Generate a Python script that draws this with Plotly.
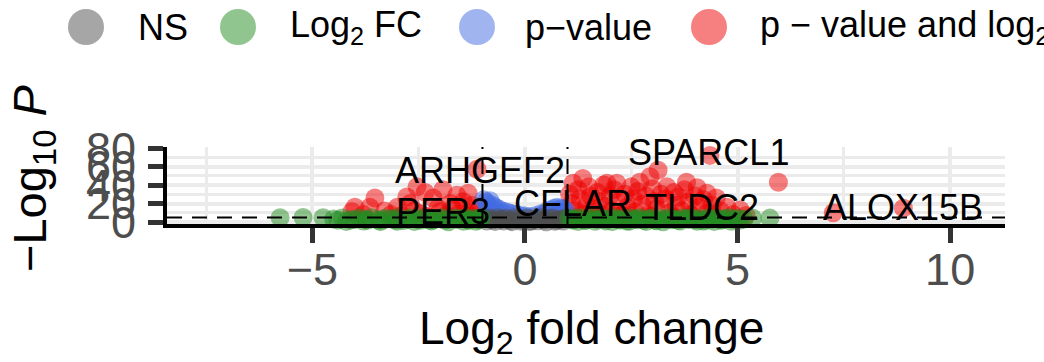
import plotly.graph_objects as go

# ---- data: log2 fold change and -log10 p for each significance class ----
ns_fc = [-0.95, -0.85, -0.75, -0.65, -0.55, -0.45, -0.35, -0.25, -0.15, -0.05,
         0.05, 0.15, 0.25, 0.35, 0.45, 0.55, 0.65, 0.75, 0.85, 0.95,
         -0.9, -0.7, -0.5, -0.3, -0.1, 0.1, 0.3, 0.5, 0.7, 0.9]
ns_p = [3.8, 4.2, 2.5, 4.5, 3.0, 4.0, 1.5, 4.4, 3.2, 2.0,
        4.3, 1.0, 3.6, 4.6, 2.2, 3.9, 4.4, 1.8, 3.3, 4.1,
        1.0, 0.5, 1.2, 0.4, 0.8, 0.6, 1.4, 0.3, 0.9, 1.1]

fc_fc = [-5.76, -5.22, -4.75, -4.5, -4.3, -4.1, -3.9, -3.75, -3.6, -3.45,
         -3.3, -3.15, -3.0, -2.85, -2.7, -2.55, -2.4, -2.25, -2.1, -1.95,
         -1.8, -1.65, -1.5, -1.4, -1.3, -1.2, -1.1, -1.03,
         -4.2, -3.8, -3.4, -3.0, -2.6, -2.2, -1.8, -1.45, -1.15,
         -4.4, -4.0, -3.7, -3.35, -3.05, -2.75, -2.45, -2.15, -1.9, -1.6, -1.35, -1.08,
         1.03, 1.1, 1.2, 1.3, 1.4, 1.5, 1.6, 1.7, 1.8, 1.9,
         2.0, 2.1, 2.2, 2.3, 2.4, 2.5, 2.6, 2.7, 2.8, 2.9,
         3.0, 3.1, 3.2, 3.3, 3.4, 3.5, 3.6, 3.7, 3.8, 3.9,
         4.0, 4.1, 4.2, 4.3, 4.4, 4.5, 4.6, 4.7, 4.8, 4.9,
         5.0, 5.15, 5.35, 5.76,
         1.25, 1.65, 2.05, 2.45, 2.85, 3.25, 3.65, 4.05, 4.45, 4.85,
         1.15, 1.45, 1.85, 2.25, 2.65, 3.05, 3.45, 3.85, 4.25, 4.65, 5.05]
fc_p = [4.5, 4.8, 4.6, 3.2, 4.4, 2.5, 4.2, 3.0, 4.6, 2.0,
        4.0, 3.5, 4.7, 1.5, 4.2, 3.0, 4.5, 2.2, 3.8, 4.6,
        2.8, 4.3, 3.6, 4.7, 1.8, 4.1, 3.2, 4.4,
        0.6, 1.0, 0.4, 0.8, 0.5, 1.2, 0.3, 0.7, 0.9,
        2.0, 2.6, 1.8, 2.4, 2.1, 2.7, 1.9, 2.5, 2.2, 2.8, 2.0, 2.4,
        4.4, 2.2, 3.8, 4.6, 1.5, 3.4, 4.5, 2.6, 4.1, 1.2,
        3.7, 4.6, 2.4, 3.9, 1.0, 4.3, 3.0, 4.7, 2.0, 3.6,
        4.4, 1.4, 4.0, 2.8, 4.6, 3.3, 1.8, 4.2, 3.5, 4.7,
        2.5, 3.9, 1.1, 4.5, 3.1, 4.2, 2.0, 3.7, 4.6, 2.8,
        4.0, 3.2, 4.3, 4.2,
        0.5, 0.8, 0.4, 0.9, 0.6, 0.3, 1.0, 0.7, 0.5, 0.8,
        2.4, 2.0, 2.6, 2.2, 2.5, 1.9, 2.3, 2.7, 2.1, 2.4, 1.8]

pv_fc = [-0.97, -0.92, -0.88, -0.82, -0.76, -0.7, -0.62, -0.55, -0.46, -0.38,
         -0.3, -0.2, -0.1, 0.0, 0.12, 0.25, 0.38, 0.5, 0.6, 0.68,
         0.76, 0.84, 0.9, 0.96, -0.9, -0.65, 0.45, 0.8]
pv_p = [24, 22, 20, 23, 18, 16, 14, 12, 11, 10,
        9, 8, 7, 6.5, 6, 7, 9, 11, 13, 15,
        16, 15, 14, 12, 12, 9, 8, 10]

sig_fc = [-4.07, -4.0, -3.65, -3.53, -3.3, -3.0, -3.15, -2.78, -2.7, -2.54,
          -2.6, -2.45, -2.35, -2.3, -2.16, -2.05, -2.0, -1.93, -1.85, -1.75,
          -1.7, -1.6, -1.55, -1.45, -1.4, -1.34, -1.25, -1.2, -1.13, -1.08,
          -3.8, -2.9, -1.3,
          1.13, 1.36, 1.93, 2.16, 2.7, 2.94, 3.13, 3.34, 3.8, 4.05,
          4.28, 4.5, 4.75, 5.06, 5.96, 4.35, 7.25, 8.9,
          1.05, 1.1, 1.2, 1.25, 1.3, 1.4, 1.45, 1.5, 1.55, 1.6,
          1.7, 1.75, 1.8, 1.85, 1.9, 2.0, 2.05, 2.1, 2.2, 2.3,
          2.35, 2.4, 2.5, 2.55, 2.6, 2.65, 2.75, 2.85, 2.9, 3.0,
          3.05, 3.1, 3.2, 3.3, 3.4, 3.5, 3.55, 3.6, 3.7, 3.75,
          3.85, 3.9, 4.0, 4.1, 4.2, 4.3, 4.4, 4.6, 4.9, 5.2,
          1.15, 1.65, 2.15, 2.45, 2.95, 3.45, 3.95, 4.45]
sig_p = [11, 16, 16, 26, 12, 16, 8, 27, 20, 38,
         12, 9, 32, 6, 26, 15, 11, 35, 7, 20,
         14, 29, 9, 22, 12, 31, 18, 8, 57, 14,
         8, 7, 6,
         42, 47, 42, 42, 43, 49, 56, 38, 43, 37,
         31, 26, 16, 13, 43, 72, 10, 15,
         30, 20, 12, 35, 25, 8, 18, 38, 28, 14,
         32, 22, 9, 40, 17, 28, 12, 35, 22, 8,
         30, 16, 38, 25, 11, 33, 19, 28, 8, 36,
         22, 14, 30, 25, 10, 32, 18, 27, 12, 35,
         22, 8, 28, 16, 24, 10, 18, 12, 8, 7,
         6, 6, 6, 7, 6, 6, 7, 6]

# labelled genes
gene_names = ["SPARCL1", "ARHGEF2", "PER3", "CFLAR", "TLDC2", "ALOX15B"]
gene_fc = [4.31, -1.06, -1.93, 1.14, 4.16, 8.9]
gene_p = [74.6, 56.0, 11.0, 20.0, 15.7, 16.0]

# cut-offs and ticks
fc_cutoff = 1.0
p_cutoff = 5.0
x_ticks = [-5, 0, 5, 10]
x_ticktext = ["\u22125", "0", "5", "10"]
x_minor = [-7.5, -2.5, 2.5, 7.5]
y_ticks = [0, 20, 40, 60, 80]
y_minor = [10, 30, 50, 70]

legend_labels = ["NS", "Log<sub>2</sub> FC", "p\u2212value",
                 "p \u2212 value and log<sub>2</sub> FC"]

# ---- styling ----
FONT = "Liberation Sans, Arial, sans-serif"
C_NS, C_FC, C_PV, C_SIG = "#4D4D4D", "#228B22", "#4169E1", "#EE0000"
W, H = 1044, 362
ML, MR, MT, MB = 167, 39, 147, 138
PW, PH = W - ML - MR, H - MT - MB


def px_x(px):
    return (px - ML) / PW


def px_y(py):
    return (H - MB - py) / PH


def pts(x, y, color):
    return go.Scatter(
        x=x, y=y, mode="markers", cliponaxis=False, showlegend=False,
        hoverinfo="skip",
        marker=dict(size=19, color=color, opacity=0.5, line=dict(width=0)),
    )


fig = go.Figure()
fig.add_trace(pts(sig_fc, sig_p, C_SIG))
fig.add_trace(pts(pv_fc, pv_p, C_PV))
fig.add_trace(pts(ns_fc, ns_p, C_NS))
fig.add_trace(pts(fc_fc, fc_p, C_FC))

grid = "#EBEBEB"
axis_common = dict(
    showgrid=True, gridcolor=grid, gridwidth=4, zeroline=False,
    showline=True, linecolor="black", linewidth=4,
    ticks="outside", ticklen=15, tickwidth=5, tickcolor="#333333",
    tickfont=dict(family=FONT, size=45, color="#4D4D4D"),
)
fig.update_xaxes(
    range=[-8.42, 11.29], tickmode="array", tickvals=x_ticks, ticktext=x_ticktext,
    ticklabelstandoff=-12,
    minor=dict(tickmode="array", tickvals=x_minor, showgrid=True,
               gridcolor=grid, gridwidth=3, ticks=""),
    **axis_common,
)
fig.update_yaxes(
    range=[-2.16, 81.08], tickmode="array", tickvals=y_ticks,
    ticktext=[str(v) for v in y_ticks], ticklabelstandoff=3,
    minor=dict(tickmode="array", tickvals=y_minor, showgrid=True,
               gridcolor=grid, gridwidth=3, ticks=""),
    **axis_common,
)

dash = dict(color="black", width=2, dash="15px,10px")
shapes = [
    dict(type="line", xref="x", yref="paper", x0=-fc_cutoff, x1=-fc_cutoff,
         y0=0, y1=1, line=dash, layer="above"),
    dict(type="line", xref="x", yref="paper", x0=fc_cutoff, x1=fc_cutoff,
         y0=0, y1=1, line=dash, layer="above"),
    dict(type="line", xref="paper", yref="y", x0=0, x1=1,
         y0=p_cutoff, y1=p_cutoff, line=dash, layer="above"),
]

annotations = []
for name, x, y in zip(gene_names, gene_fc, gene_p):
    annotations.append(dict(
        x=x, y=y, xref="x", yref="y", text=name, showarrow=False,
        xanchor="center", yanchor="middle",
        font=dict(family=FONT, size=36, color="black"),
    ))

# legend row along the top
legend_colors = [C_NS, C_FC, C_PV, C_SIG]
legend_dot_x = [86, 238, 477, 709]
legend_text_x = [136, 288, 523, 758]
legend_y = 27
for lab, col, dx, tx in zip(legend_labels, legend_colors, legend_dot_x, legend_text_x):
    shapes.append(dict(
        type="circle", xref="paper", yref="paper",
        xsizemode="pixel", ysizemode="pixel",
        xanchor=px_x(dx), yanchor=px_y(legend_y),
        x0=-18, x1=18, y0=-18, y1=18,
        fillcolor=col, opacity=0.5, line=dict(width=0), layer="above",
    ))
    annotations.append(dict(
        x=px_x(tx), y=px_y(legend_y), xref="paper", yref="paper",
        text=lab, showarrow=False, xanchor="left", yanchor="middle",
        font=dict(family=FONT, size=36, color="black"),
    ))

# axis titles
annotations.append(dict(
    x=px_x(591), y=px_y(331), xref="paper", yref="paper",
    text="Log<sub>2</sub> fold change", showarrow=False,
    xanchor="center", yanchor="middle",
    font=dict(family=FONT, size=46, color="black"),
))
annotations.append(dict(
    x=px_x(33), y=px_y(178), xref="paper", yref="paper",
    text="\u2212Log<sub>10</sub> <i>P</i>", showarrow=False, textangle=-90,
    xanchor="center", yanchor="middle",
    font=dict(family=FONT, size=47, color="black"),
))

fig.update_layout(
    width=W, height=H,
    margin=dict(l=ML, r=MR, t=MT, b=MB, pad=0),
    paper_bgcolor="white", plot_bgcolor="white",
    showlegend=False,
    shapes=shapes, annotations=annotations,
    font=dict(family=FONT),
)

fig.write_html("out.html")
